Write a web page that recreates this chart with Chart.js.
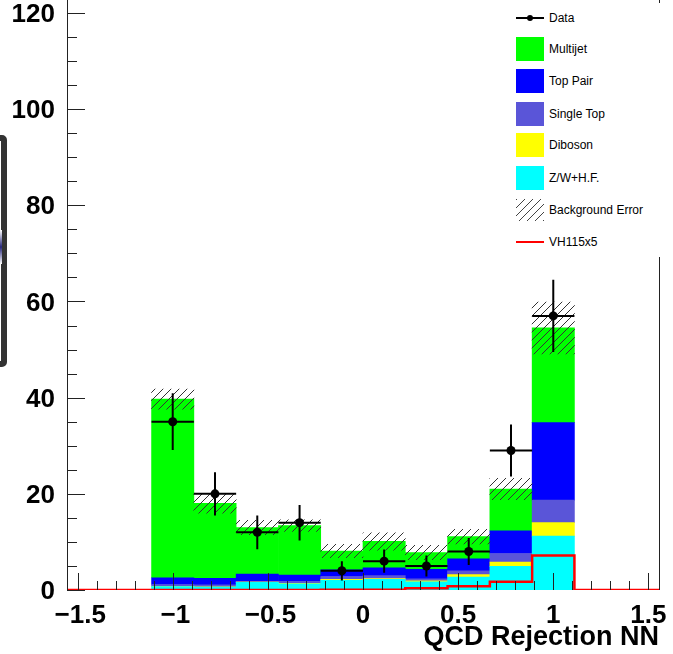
<!DOCTYPE html>
<html>
<head>
<meta charset="utf-8">
<script src="https://cdn.jsdelivr.net/npm/chart.js@4.4.0/dist/chart.umd.min.js"></script>
<style>
  html, body { margin: 0; padding: 0; background: #fff; }
  #wrap { position: relative; width: 673px; height: 654px; overflow: hidden; }
  #legend { position: absolute; left: 508px; top: 3px; width: 165px; height: 254px; background: #fff;
            font: 12px "Liberation Sans", Arial, sans-serif; color: #000; }
  .sw { position: absolute; left: 8px; width: 28px; height: 24px; }
  .lbl { position: absolute; left: 41px; height: 24px; line-height: 24px; white-space: nowrap; }
  #edge { position: absolute; left: -14px; top: 135px; width: 9px; height: 220px;
          border: 6px solid #333; border-radius: 5px; }
  #blob { position: absolute; left: 0; top: 230px; width: 2px; height: 34px;
          background: linear-gradient(#fff, #26267a, #fff); }
</style>
</head>
<body>
<div id="wrap">
  <canvas id="chart" width="673" height="654"></canvas>
  <div id="edge"></div>
  <div id="blob"></div>
  <div id="legend"></div>
</div>
<script>
// bins of the histogram: 14 bins from -1.5556 to 1.5556, filled ones are bins 2..11
const binEdges = [-1.5556, -1.3333, -1.1111, -0.8889, -0.6667, -0.4444, -0.2222, 0,
                  0.2222, 0.4444, 0.6667, 0.8889, 1.1111, 1.3333, 1.5556];
const binCenters = [-1.0, -0.7778, -0.5556, -0.3333, -0.1111, 0.1111, 0.3333, 0.5556, 0.7778, 1.0];

// stacked backgrounds (bottom to top)
const zwhf      = [0.7, 0.6, 1.6, 1.3, 2.0, 2.2, 1.7, 2.7, 4.9, 11.2];
const diboson   = [0.05, 0.05, 0.05, 0.1, 0.2, 0.2, 0.2, 0.5, 0.9, 2.8];
const singleTop = [0.4, 0.4, 0.15, 0.4, 0.6, 0.6, 0.4, 0.8, 1.8, 4.7];
const topPair   = [1.4, 1.4, 1.5, 1.3, 1.4, 1.6, 2.0, 2.5, 4.7, 16.1];
const multijet  = [37.15, 15.55, 9.7, 10.3, 3.9, 5.5, 3.5, 4.6, 8.7, 19.7];
const bkgError  = [2.1, 2.0, 1.5, 1.2, 1.4, 1.8, 1.5, 1.5, 2.2, 5.4];

const dataCounts = [35, 20, 12, 14, 4, 6, 5, 8, 29, 57];
const dataError  = [5.9, 4.5, 3.5, 3.7, 2.0, 2.4, 2.2, 2.8, 5.4, 7.5];

// VH115 x5 signal, one value per bin (all 14 bins)
const signalVH = [0, 0, 0, 0, 0, 0, 0.05, 0.05, 0.35, 0.8, 1.7, 7.2, 0, 0];

const xTicks = [-1.5, -1, -0.5, 0, 0.5, 1, 1.5];
const yTicks = [0, 20, 40, 60, 80, 100, 120];

const colors = {
  multijet: '#00ff00',
  topPair: '#0000ff',
  singleTop: '#5a55d8',
  diboson: '#ffff00',
  zwhf: '#00ffff',
  signal: '#ff0000'
};

function hatchPattern(color) {
  const c = document.createElement('canvas');
  c.width = 8; c.height = 8;
  const g = c.getContext('2d');
  g.strokeStyle = color;
  g.lineWidth = 1;
  g.beginPath();
  g.moveTo(0, 8); g.lineTo(8, 0);
  g.moveTo(-1, 1); g.lineTo(1, -1);
  g.moveTo(7, 9); g.lineTo(9, 7);
  g.stroke();
  return g.createPattern(c, 'repeat');
}

const total = binCenters.map((_, i) => zwhf[i] + diboson[i] + singleTop[i] + topPair[i] + multijet[i]);
const halfBin = (binEdges[1] - binEdges[0]) / 2;

function barSet(label, values, color) {
  return {
    type: 'bar', label, yAxisID: 'y', order: 3,
    data: binCenters.map((x, i) => ({x, y: values[i]})),
    backgroundColor: color, borderWidth: 0,
    barPercentage: 1, categoryPercentage: 1
  };
}

// ROOT-style axes: ticks drawn inwards, error bars under the data markers
const rootAxes = {
  id: 'rootAxes',
  beforeDatasetDraw(chart, args) {
    if (args.index !== 0) return;
    const {ctx, scales: {x, y}} = chart;
    ctx.save();
    ctx.strokeStyle = '#000';
    ctx.lineWidth = 2;
    ctx.beginPath();
    binCenters.forEach((c, i) => {
      const px = x.getPixelForValue(c);
      const py = y.getPixelForValue(dataCounts[i]);
      ctx.moveTo(px, y.getPixelForValue(dataCounts[i] - dataError[i]));
      ctx.lineTo(px, y.getPixelForValue(dataCounts[i] + dataError[i]));
      ctx.moveTo(x.getPixelForValue(c - halfBin), py);
      ctx.lineTo(x.getPixelForValue(c + halfBin), py);
    });
    ctx.stroke();
    ctx.restore();
  },
  afterDatasetsDraw(chart) {
    const {ctx, chartArea: a, scales: {x, y}} = chart;
    ctx.save();
    ctx.strokeStyle = '#222';
    ctx.lineWidth = 1;
    ctx.beginPath();
    ctx.moveTo(a.left + 0.5, a.top); ctx.lineTo(a.left + 0.5, a.bottom);
    ctx.moveTo(a.right + 0.5, a.top); ctx.lineTo(a.right + 0.5, a.bottom);
    for (let v = 0; v <= 120; v += 5) {
      const py = Math.round(y.getPixelForValue(v)) + 0.5;
      ctx.moveTo(a.left, py);
      ctx.lineTo(a.left + (v % 20 === 0 ? 18 : 10), py);
    }
    for (let k = -15; k <= 15; k++) {
      const px = Math.round(x.getPixelForValue(k / 10)) + 0.5;
      ctx.moveTo(px, a.bottom);
      ctx.lineTo(px, a.bottom - (k % 5 === 0 ? 17 : 9));
    }
    ctx.stroke();
    ctx.restore();
  }
};

const tickFont = {family: '"Liberation Sans", Arial, sans-serif', size: 26, weight: 'bold'};

new Chart(document.getElementById('chart'), {
  data: {
    datasets: [
      {
        type: 'line', label: 'Data', yAxisID: 'y2', order: 0,
        data: binCenters.map((x, i) => ({x, y: dataCounts[i]})),
        showLine: false, pointRadius: 4.5, pointHoverRadius: 4.5, pointBorderWidth: 0,
        pointBackgroundColor: '#000', borderColor: '#000'
      },
      {
        type: 'line', label: 'VH115x5', yAxisID: 'y2', order: 1,
        data: binEdges.map((x, i) => ({x, y: signalVH[Math.min(i, signalVH.length - 1)]})),
        stepped: 'before', borderColor: colors.signal, borderWidth: 2.5,
        pointRadius: 0, fill: false
      },
      {
        type: 'bar', label: 'Background Error', yAxisID: 'y2', order: 2,
        data: binCenters.map((x, i) => ({x, y: [total[i] - bkgError[i], total[i] + bkgError[i]]})),
        backgroundColor: hatchPattern('#333'), borderWidth: 0,
        barPercentage: 1, categoryPercentage: 1
      },
      barSet('Z/W+H.F.', zwhf, colors.zwhf),
      barSet('Diboson', diboson, colors.diboson),
      barSet('Single Top', singleTop, colors.singleTop),
      barSet('Top Pair', topPair, colors.topPair),
      barSet('Multijet', multijet, colors.multijet)
    ]
  },
  options: {
    responsive: false,
    animation: false,
    events: [],
    layout: {autoPadding: false, padding: {left: 0, right: 14, top: 0, bottom: 0}},
    plugins: {legend: {display: false}, tooltip: {enabled: false}},
    scales: {
      x: {
        type: 'linear', min: -1.5556, max: 1.5556, stacked: true, offset: false,
        afterFit: s => { s.height = 64; s.paddingLeft = 0; s.paddingRight = 0; },
        afterBuildTicks: s => { s.ticks = xTicks.map(v => ({value: v})); },
        grid: {display: false}, border: {display: false},
        ticks: {
          font: tickFont, color: '#000', padding: 2, autoSkip: false, maxRotation: 0,
          callback: v => (v < 0 ? '\u2009\u2212' + Math.abs(v) : String(v))
        },
        title: {
          display: true, text: 'QCD Rejection NN', align: 'end', color: '#000',
          font: {family: tickFont.family, size: 27, weight: 'bold'}, padding: {top: 0, bottom: 0}
        }
      },
      y: {
        stacked: true, min: 0, max: 122.7,
        afterFit: s => { s.width = 67; s.paddingTop = 0; s.paddingBottom = 0; },
        afterBuildTicks: s => { s.ticks = yTicks.map(v => ({value: v})); },
        grid: {display: false}, border: {display: false},
        ticks: {font: tickFont, color: '#000', padding: 4, labelOffset: 2}
      },
      y2: {min: 0, max: 122.7, display: false}
    }
  },
  plugins: [rootAxes]
});

// legend box in the upper right corner
const legendRows = [
  {label: 'Data', kind: 'marker'},
  {label: 'Multijet', kind: 'box', color: colors.multijet},
  {label: 'Top Pair', kind: 'box', color: colors.topPair},
  {label: 'Single Top', kind: 'box', color: colors.singleTop},
  {label: 'Diboson', kind: 'box', color: colors.diboson},
  {label: 'Z/W+H.F.', kind: 'box', color: colors.zwhf},
  {label: 'Background Error', kind: 'hatch'},
  {label: 'VH115x5', kind: 'line', color: colors.signal}
];
const legendY = [14.5, 46, 78, 110.5, 142, 174.5, 206.5, 238.5];
const legend = document.getElementById('legend');
legendRows.forEach((r, i) => {
  const top = legendY[i] - 12;
  const sw = document.createElement('div');
  sw.className = 'sw';
  sw.style.top = top + 'px';
  if (r.kind === 'box') {
    sw.style.background = r.color;
  } else if (r.kind === 'hatch') {
    sw.style.top = (top + 1) + 'px';
    sw.style.height = '22px';
    sw.style.background = 'repeating-linear-gradient(135deg, #444 0 1px, transparent 1px 5.66px)';
  } else if (r.kind === 'line') {
    sw.style.height = '2px';
    sw.style.top = (legendY[i] - 1) + 'px';
    sw.style.background = r.color;
  } else {
    sw.style.height = '2px';
    sw.style.top = (legendY[i] - 1) + 'px';
    sw.style.background = '#000';
    const dot = document.createElement('div');
    dot.style.cssText = 'position:absolute;left:11px;top:-2px;width:6px;height:6px;border-radius:3px;background:#000';
    sw.appendChild(dot);
  }
  legend.appendChild(sw);
  const lbl = document.createElement('div');
  lbl.className = 'lbl';
  lbl.style.top = top + 'px';
  lbl.textContent = r.label;
  legend.appendChild(lbl);
});
</script>
</body>
</html>
